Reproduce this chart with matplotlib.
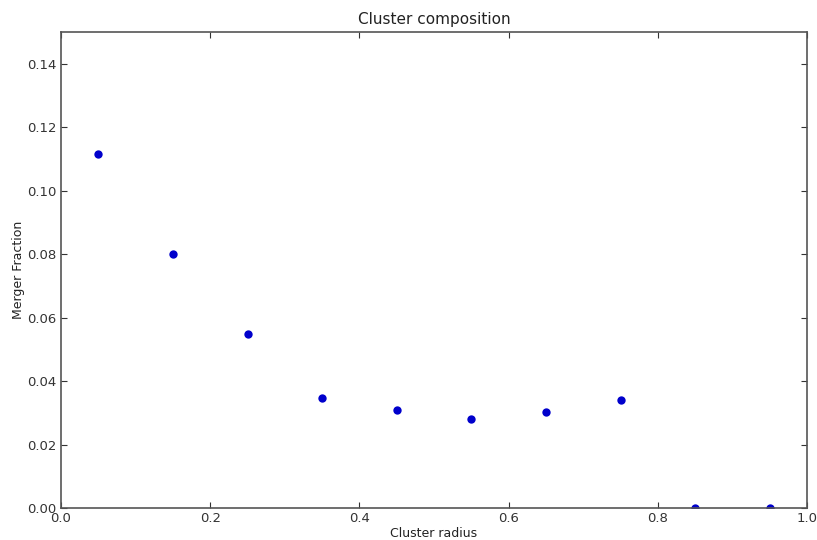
import matplotlib
matplotlib.use("Agg")
import matplotlib.pyplot as plt

radius = [0.05, 0.15, 0.25, 0.35, 0.45, 0.55, 0.65, 0.75, 0.85, 0.95]
merger_fraction = [0.1115, 0.0800, 0.0548, 0.0346, 0.0309, 0.0280, 0.0302, 0.0340, 0.0, 0.0]
xticks = [0.0, 0.2, 0.4, 0.6, 0.8, 1.0]
yticks = [0.00, 0.02, 0.04, 0.06, 0.08, 0.10, 0.12, 0.14]

fig = plt.figure(figsize=(8.17, 5.40), dpi=100)
ax = fig.add_axes([0.0747, 0.0593, 0.9131, 0.8814])
ax.plot(radius, merger_fraction, 'o', color='#0000cc', markersize=6, markeredgewidth=0)
ax.set_xlim(0, 1.0)
ax.set_ylim(0, 0.15)
ax.set_xticks(xticks)
ax.set_yticks(yticks)
ax.set_xticklabels([f"{t:.1f}" for t in xticks])
ax.set_yticklabels([f"{t:.2f}" for t in yticks])
ax.tick_params(direction='in', top=True, right=True, length=4, width=0.8,
               labelsize=9.5, colors='#333333', pad=3)
for s in ax.spines.values():
    s.set_color('#555555')
    s.set_linewidth(1.2)
ax.set_title("Cluster composition", fontsize=11, color='#222222', pad=6)
ax.set_xlabel("Cluster radius", fontsize=9, color='#222222', labelpad=1)
ax.set_ylabel("Merger Fraction", fontsize=9, color='#222222', labelpad=2)
fig.savefig("out.png", dpi=100)
